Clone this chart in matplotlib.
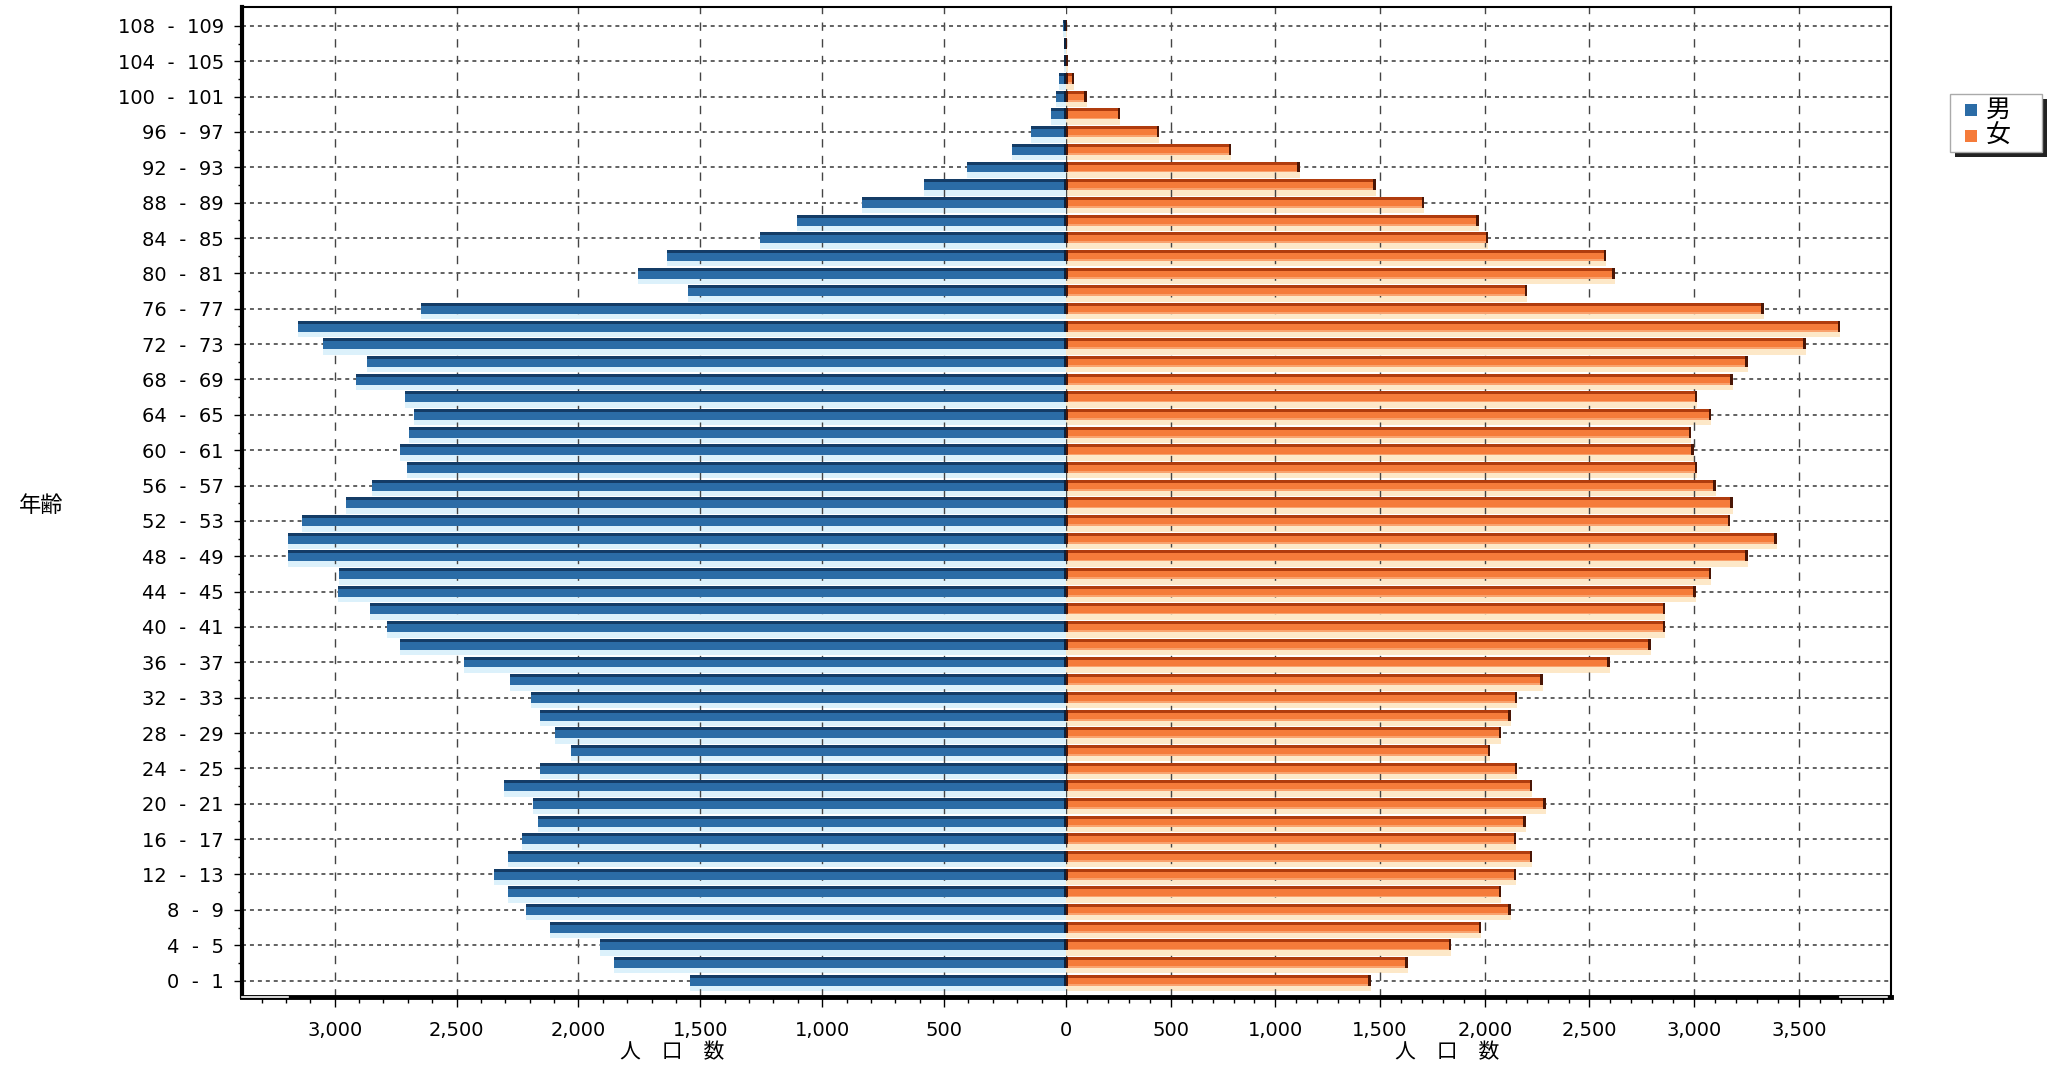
import matplotlib
matplotlib.use("Agg")
import matplotlib.pyplot as plt
from matplotlib.patches import Rectangle
from matplotlib.ticker import FixedLocator, FuncFormatter

# === Data (index 0 = "0 - 1" ... index 54 = "108 - 109") ===
age_start = list(range(0, 110, 2))
male = [1544, 1855, 1912, 2115, 2213, 2287, 2345, 2287, 2231, 2165,
        2185, 2304, 2156, 2029, 2098, 2156, 2193, 2279, 2471, 2730,
        2786, 2855, 2985, 2981, 3193, 3193, 3132, 2952, 2845, 2703,
        2731, 2694, 2674, 2711, 2911, 2866, 3046, 3152, 2645, 1549,
        1754, 1635, 1255, 1102, 838, 584, 405, 220, 143, 62,
        40, 28, 10, 8, 12]
female = [1455, 1632, 1841, 1982, 2124, 2079, 2150, 2227, 2150, 2195,
          2291, 2227, 2156, 2027, 2079, 2124, 2156, 2278, 2597, 2792,
          2863, 2863, 3008, 3082, 3255, 3394, 3172, 3184, 3104, 3014,
          2998, 2985, 3082, 3014, 3184, 3255, 3532, 3697, 3333, 2203,
          2621, 2579, 2017, 1971, 1712, 1480, 1117, 790, 446, 260,
          99, 40, 10, 5, 5]
age_labels = [f"{a}  -  {a + 1}" for a in age_start]
legend_names = ["男", "女"]
x_title = "人　口　数"
y_title = "年齢"

# === Settings ===
W_PX, H_PX = 2058, 1068
MALE_MAX = 3380
FEMALE_MAX = 3940
MALE_COLORS = {"band": "#dcf1fb", "body": "#2b6ca6", "top": "#143c66", "cap": "#0b223d"}
FEMALE_COLORS = {"band": "#fde8c8", "body": "#f57b3a", "top": "#b03c0e", "low": "#f9a26e", "cap": "#4a1606"}

plt.rcParams['font.family'] = ['DejaVu Sans', 'Noto Sans CJK JP']
CJK = ['Noto Sans CJK JP', 'DejaVu Sans']

fig = plt.figure(figsize=(W_PX / 100, H_PX / 100), dpi=100)
ax_m = fig.add_axes([242 / W_PX, 71 / H_PX, 824 / W_PX, 990 / H_PX])
ax_f = fig.add_axes([1066 / W_PX, 71 / H_PX, 825 / W_PX, 990 / H_PX])

ypos = list(range(len(age_start)))


def draw_bars(ax, values, col, cap_w):
    # light glow band below each bar
    ax.barh([y - 0.135 for y in ypos], values, height=0.93, color=col["band"], lw=0, zorder=1)
    # main body
    ax.barh([y + 0.02 for y in ypos], values, height=0.62, color=col["body"], lw=0, zorder=2)
    # dark top edge
    ax.barh([y + 0.245 for y in ypos], values, height=0.17, color=col["top"], lw=0, zorder=3)
    if "low" in col:
        ax.barh([y - 0.24 for y in ypos], values, height=0.10, color=col["low"], lw=0, zorder=3)
    # separator at zero
    ax.barh([y + 0.02 for y in ypos], [min(cap_w, v) for v in values], height=0.62,
            color=col["cap"], lw=0, zorder=4)


draw_bars(ax_m, male, MALE_COLORS, 10)
draw_bars(ax_f, female, FEMALE_COLORS, 10)
# dark end cap on the female bars
for y, v in zip(ypos, female):
    w = min(12, v)
    ax_f.add_patch(Rectangle((v - w, y - 0.29), w, 0.62, color=FEMALE_COLORS["cap"], lw=0, zorder=4))

fmt = FuncFormatter(lambda v, p: f"{int(v):,}")
for ax, xmax, majors in [(ax_m, MALE_MAX, range(500, 3001, 500)),
                         (ax_f, FEMALE_MAX, range(0, 3501, 500))]:
    ax.set_ylim(-0.93, 55.07)
    ax.xaxis.set_major_locator(FixedLocator(list(majors)))
    ax.xaxis.set_minor_locator(FixedLocator(list(range(100, xmax, 100))))
    ax.xaxis.set_major_formatter(fmt)
    ax.tick_params(axis='x', which='major', length=7, width=1, labelsize=14, pad=10, direction='out')
    ax.tick_params(axis='x', which='minor', length=4, width=1)
    ax.set_yticks(ypos[::2])
    ax.set_axisbelow('line')
    ax.grid(axis='x', which='major', color='#444444', lw=1, linestyle=(0, (6, 6)))
    ax.grid(axis='y', which='major', color='#555555', lw=1.3, linestyle=(0, (2.2, 2.2)))
    ax.spines['top'].set_linewidth(1.5)
    ax.spines['bottom'].set_linewidth(3.5)

ax_m.set_xlim(MALE_MAX, 0)
ax_f.set_xlim(0, FEMALE_MAX)

ax_m.set_yticklabels(age_labels[::2])
ax_m.yaxis.set_minor_locator(FixedLocator(ypos[1::2]))
ax_m.tick_params(axis='y', which='major', length=6, width=1, labelsize=14, pad=7)
ax_m.tick_params(axis='y', which='minor', length=3, width=1)
ax_m.spines['right'].set_visible(False)
ax_m.spines['left'].set_linewidth(3)
ax_f.tick_params(axis='y', length=0, labelleft=False)
ax_f.spines['left'].set_visible(False)
ax_f.spines['right'].set_linewidth(1.5)

# little white gaps in the floor line at both ends
ax_m.plot([0.0, 0.056], [0, 0], transform=ax_m.transAxes, color='white', lw=1.2, clip_on=False, zorder=10)
ax_f.plot([0.938, 0.995], [0, 0], transform=ax_f.transAxes, color='white', lw=1.2, clip_on=False, zorder=10)

# axis titles
fig.text(672 / W_PX, 1 - 1052 / H_PX, x_title, family=CJK, fontsize=15, ha='center', va='center')
fig.text(1447 / W_PX, 1 - 1052 / H_PX, x_title, family=CJK, fontsize=15, ha='center', va='center')
fig.text(41 / W_PX, 1 - 505 / H_PX, y_title, family=CJK, fontsize=16, ha='center', va='center')

# === Legend with drop shadow ===
def px_rect(x0, y0, x1, y1, **kw):
    return Rectangle((x0 / W_PX, 1 - y1 / H_PX), (x1 - x0) / W_PX, (y1 - y0) / H_PX,
                     transform=fig.transFigure, **kw)


fig.patches.append(px_rect(1955, 99, 2047, 157, facecolor='#222222', lw=0))
fig.patches.append(px_rect(1950, 94, 2042, 152, facecolor='white', edgecolor='#aaaaaa', lw=1))
for name, color, yc in [(legend_names[0], MALE_COLORS["body"], 110),
                        (legend_names[1], FEMALE_COLORS["body"], 136)]:
    fig.patches.append(px_rect(1965, yc - 6, 1977, yc + 6, facecolor=color, lw=0))
    fig.text(1986 / W_PX, 1 - yc / H_PX, name, family=CJK, fontsize=18, ha='left', va='center')

fig.savefig("out.png", dpi=100)
